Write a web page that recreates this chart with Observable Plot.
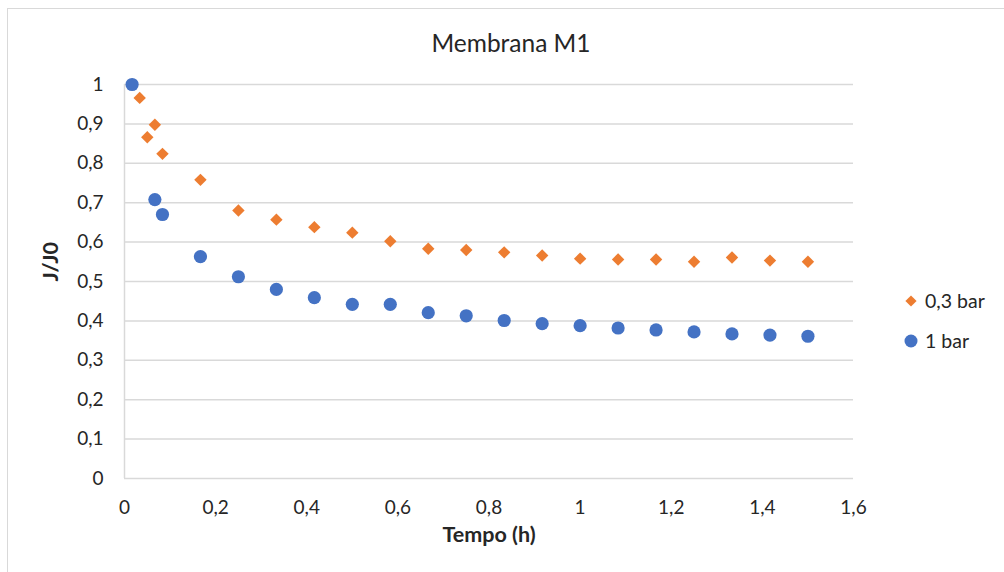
<!DOCTYPE html>
<html>
<head>
<meta charset="utf-8">
<script src="https://cdn.jsdelivr.net/npm/d3@7"></script>
<script src="https://cdn.jsdelivr.net/npm/@observablehq/plot@0.6"></script>
<style>
  body { margin: 0; background: #fff; font-family: Lato, "Noto Sans", sans-serif; }
  #chart { position: relative; width: 1004px; height: 572px; overflow: hidden; background: #fff; }
  #frame { position: absolute; left: 7px; top: 8px; width: 1100px; height: 700px;
           border-left: 1.5px solid #D9D9D9; border-top: 1.5px solid #D9D9D9; box-sizing: border-box; }
  #title { position: absolute; left: 0; width: 1022px; top: 28px; text-align: center;
           font-size: 24.5px; color: #262626; line-height: 30px; }
  #plot { position: absolute; left: 0; top: 0; }
  #legend { position: absolute; left: 900px; top: 287px; font-size: 19.5px; color: #262626; }
  .item { display: flex; align-items: center; height: 27px; margin-bottom: 13px; }
  .item svg { width: 22px; height: 22px; margin-right: 3px; }
</style>
</head>
<body>
<div id="chart">
  <div id="frame"></div>
  <div id="title">Membrana M1</div>
  <div id="plot"></div>
  <div id="legend"></div>
</div>
<script>
// Tempo em minutos e fluxo normalizado J/J0
const minutos03 = [1, 2, 3, 4, 5, 10, 15, 20, 25, 30, 35, 40, 45, 50, 55, 60, 65, 70, 75, 80, 85, 90];
const jj0_03    = [1.0, 0.966, 0.866, 0.898, 0.824, 0.758, 0.680, 0.657, 0.638, 0.624, 0.602, 0.583,
                   0.580, 0.574, 0.566, 0.558, 0.556, 0.556, 0.550, 0.561, 0.553, 0.550];

const minutos1  = [1, 4, 5, 10, 15, 20, 25, 30, 35, 40, 45, 50, 55, 60, 65, 70, 75, 80, 85, 90];
const jj0_1     = [1.0, 0.708, 0.670, 0.563, 0.512, 0.480, 0.459, 0.442, 0.442, 0.421, 0.413, 0.401,
                   0.393, 0.388, 0.382, 0.377, 0.372, 0.367, 0.364, 0.361];

const series = ["0,3 bar", "1 bar"];
const cores = ["#ED7D31", "#4472C4"];

const xTicks = [0, 0.2, 0.4, 0.6, 0.8, 1, 1.2, 1.4, 1.6];
const yTicks = [0, 0.1, 0.2, 0.3, 0.4, 0.5, 0.6, 0.7, 0.8, 0.9, 1];

// vírgula decimal
const fmt = d => String(+d.toFixed(2)).replace(".", ",");

const dados03 = minutos03.map((m, i) => ({tempo: m / 60, jj0: jj0_03[i]}));
const dados1  = minutos1.map((m, i) => ({tempo: m / 60, jj0: jj0_1[i]}));

const grid = "#D9D9D9";

const plot = Plot.plot({
  width: 1004,
  height: 572,
  marginLeft: 124,
  marginRight: 151,
  marginTop: 84,
  marginBottom: 94,
  style: {fontFamily: "Lato, 'Noto Sans', sans-serif", fontSize: "19px", color: "#262626",
          background: "transparent", overflow: "visible"},
  x: {domain: [0, 1.6]},
  y: {domain: [0, 1]},
  marks: [
    Plot.gridY(yTicks, {stroke: grid, strokeOpacity: 1, strokeWidth: 1.5}),
    Plot.ruleX([0], {stroke: grid, strokeWidth: 1.5}),
    Plot.axisY(yTicks, {tickSize: 0, tickPadding: 21, tickFormat: fmt, label: null}),
    Plot.axisX(xTicks, {tickSize: 0, tickPadding: 22, tickFormat: fmt, label: null}),
    Plot.text(["Tempo (h)"], {frameAnchor: "bottom", dy: 63, fontWeight: "bold", fontSize: 21.5, fill: "#262626"}),
    Plot.text(["J/J0"], {frameAnchor: "left", dx: -73, rotate: -90, fontWeight: "bold", fontSize: 21.5, fill: "#262626"}),
    Plot.dot(dados03, {x: "tempo", y: "jj0", symbol: "diamond2", r: 5.6, fill: cores[0], stroke: "none"}),
    Plot.dot(dados1, {x: "tempo", y: "jj0", r: 6.6, fill: cores[1], stroke: "none"})
  ]
});
document.getElementById("plot").appendChild(plot);

// Legenda
const legend = d3.select("#legend");
series.forEach((nome, i) => {
  const item = legend.append("div").attr("class", "item");
  const s = item.append("svg").attr("viewBox", "-11 -11 22 22");
  if (i === 0) {
    s.append("path").attr("d", d3.symbol(d3.symbolDiamond2, 80)()).attr("fill", cores[i]);
  } else {
    s.append("circle").attr("r", 6.5).attr("fill", cores[i]);
  }
  item.append("span").text(nome);
});
</script>
</body>
</html>
